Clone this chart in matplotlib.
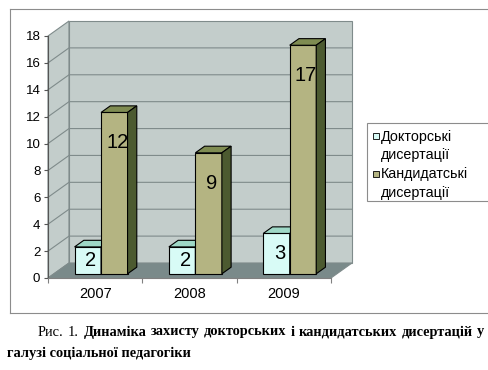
import matplotlib
matplotlib.use('Agg')
import matplotlib.pyplot as plt
from matplotlib.patches import Polygon, Rectangle
from matplotlib.lines import Line2D

# ---------------- data ----------------
categories = ['2007', '2008', '2009']
doctoral = [2, 2, 3]
candidate = [12, 9, 17]
series_labels = ['Докторські\nдисертації', 'Кандидатські\nдисертації']
y_ticks = [0, 2, 4, 6, 8, 10, 12, 14, 16, 18]
caption_regular = 'Рис. 1.'
caption_bold_1 = 'Динаміка захисту докторських і кандидатських дисертацій у'
caption_bold_2 = 'галузі соціальної педагогіки'

plt.rcParams['font.family'] = ['Liberation Sans', 'DejaVu Sans']

W, H, DPI = 489, 370, 100
fig = plt.figure(figsize=(W / DPI, H / DPI), dpi=DPI)
fig.patch.set_facecolor('white')


def fx(px):
    return px / W


def fy(py):
    return 1 - py / H


# ---------------- chart frame ----------------
frame_c = '#8c8c8c'
for xs, ys in [([10, 10], [9, 313]), ([10, W], [9, 9]), ([10, W], [313, 313])]:
    fig.add_artist(Line2D([fx(v) for v in xs], [fy(v) for v in ys],
                          color=frame_c, lw=0.8, transform=fig.transFigure))

# ---------------- axes (front plane) ----------------
ax_l, ax_t, ax_r, ax_b = 48, 36, 331, 278
ax = fig.add_axes([fx(ax_l), fy(ax_b), (ax_r - ax_l) / W, (ax_b - ax_t) / H])
ymax = y_ticks[-1]
n = len(categories)
ax.set_xlim(-0.5, n - 0.5)
ax.set_ylim(0, ymax)
ax.patch.set_visible(False)

xu = (ax_r - ax_l) / n          # px per x unit
yu = (ax_b - ax_t) / ymax       # px per y unit
DX, DY = 21 / xu, 15 / yu       # wall depth in data units
x0, x1 = -0.5, n - 0.5

wall_c = '#C3CDCB'
floor_c = '#7A8A8A'
grid_c = '#7F8B8B'


def poly(pts, fc, ec='none', lw=0.0, z=1.0):
    ax.add_patch(Polygon(pts, closed=True, facecolor=fc, edgecolor=ec,
                         linewidth=lw, zorder=z, clip_on=False,
                         joinstyle='miter'))


# walls and floor
poly([(x0, 0), (x0, ymax), (x0 + DX, ymax + DY), (x0 + DX, DY)], wall_c, grid_c, 0.8, 0.5)
poly([(x0 + DX, DY), (x0 + DX, ymax + DY), (x1 + DX, ymax + DY), (x1 + DX, DY)],
     wall_c, grid_c, 0.8, 0.5)
for t in y_ticks[1:-1]:
    ax.plot([x0, x0 + DX, x1 + DX], [t, t + DY, t + DY], color=grid_c, lw=0.8,
            zorder=0.7, clip_on=False)
poly([(x0, 0), (x1, 0), (x1 + DX, DY), (x0 + DX, DY)], floor_c, grid_c, 0.8, 0.8)

# ---------------- 3D bars ----------------
bw = 26.5 / xu
f0, f1 = 0.28, 0.72
bdx, bdy = (f1 - f0) * DX, (f1 - f0) * DY
doc_cols = ('#D8FBF6', '#9ED8C6', '#6FA898')
cand_cols = ('#B4B482', '#7F8C52', '#4C5A30')


def bar3d(xl, h, cols):
    bx, by = xl + f0 * DX, f0 * DY
    front, top, side = cols
    poly([(bx, by), (bx + bw, by), (bx + bw, by + h), (bx, by + h)], front, 'black', 0.8, 3)
    poly([(bx, by + h), (bx + bw, by + h), (bx + bw + bdx, by + h + bdy), (bx + bdx, by + h + bdy)],
         top, 'black', 0.8, 3)
    poly([(bx + bw, by), (bx + bw + bdx, by + bdy), (bx + bw + bdx, by + h + bdy), (bx + bw, by + h)],
         side, 'black', 0.8, 3)


lab_dx = 3 / xu
for i in range(n):
    bar3d(i - bw, doctoral[i], doc_cols)
    bar3d(i, candidate[i], cand_cols)
    ax.text(i - bw / 2 + f0 * DX + lab_dx, f0 * DY + doctoral[i] / 2, str(doctoral[i]),
            ha='center', va='center', fontsize=14.5, zorder=10)
    ax.text(i + bw / 2 + f0 * DX + lab_dx, f0 * DY + candidate[i] - 1.55, str(candidate[i]),
            ha='center', va='top', fontsize=14.5, zorder=10)

# ---------------- axes styling ----------------
ax.set_yticks(y_ticks)
ax.tick_params(axis='y', direction='out', length=2.9, width=0.8, color='#555555',
               pad=2.6, labelsize=9.5)
ax.set_xticks([x0 + k for k in range(n + 1)])
ax.set_xticklabels([])
ax.set_xticks(range(n), minor=True)
ax.set_xticklabels(categories, minor=True)
ax.tick_params(axis='x', which='major', direction='out', length=3.5, width=0.8, color='#808080')
ax.tick_params(axis='x', which='minor', length=0, pad=6.5, labelsize=10.5)
for s in ['top', 'right']:
    ax.spines[s].set_visible(False)
ax.spines['left'].set_color('#555555')
ax.spines['left'].set_linewidth(0.8)
ax.spines['bottom'].set_color('#808080')
ax.spines['bottom'].set_linewidth(0.8)

# ---------------- legend ----------------
fig.add_artist(Rectangle((fx(367), fy(201)), (W + 10 - 367) / W, (201 - 123) / H,
                         facecolor='white', edgecolor='#8c8c8c', lw=0.8,
                         transform=fig.transFigure, clip_on=False))
leg_rows = [136, 174]
for lab, col, yc in zip(series_labels, [doc_cols[0], cand_cols[0]], leg_rows):
    fig.add_artist(Rectangle((fx(373), fy(yc + 3.3)), 6.5 / W, 6.5 / H, facecolor=col,
                             edgecolor='black', lw=0.6, transform=fig.transFigure))
    fig.text(fx(381), fy(yc - 6.5), lab, ha='left', va='top', fontsize=10.3,
             linespacing=1.38)

# ---------------- caption (justified) ----------------
serif = ['Liberation Serif', 'DejaVu Serif']
renderer = fig.canvas.get_renderer()


def width(s, weight, fs):
    t = fig.text(0, 0, s, fontsize=fs, family=serif, weight=weight)
    w = t.get_window_extent(renderer).width
    t.remove()
    return w


left, right = 38, 484
line1_natural = width(caption_regular + ' ', 'normal', 10) + width(caption_bold_1, 'bold', 10)
cap_fs = 10 * (right - left - 4) / line1_natural
words = [(w, 'normal') for w in caption_regular.split()] + \
        [(w, 'bold') for w in caption_bold_1.split()]
widths = [width(w, wt, cap_fs) for w, wt in words]
gap = (right - left - sum(widths)) / (len(words) - 1)
xcur = left
for (w, wt), ww in zip(words, widths):
    fig.text(fx(xcur), fy(332), w, fontsize=cap_fs, family=serif, weight=wt,
             ha='left', va='center')
    xcur += ww + gap
fig.text(fx(7), fy(353), caption_bold_2, fontsize=cap_fs, family=serif, weight='bold',
         ha='left', va='center')

fig.savefig('out.png', dpi=DPI)
